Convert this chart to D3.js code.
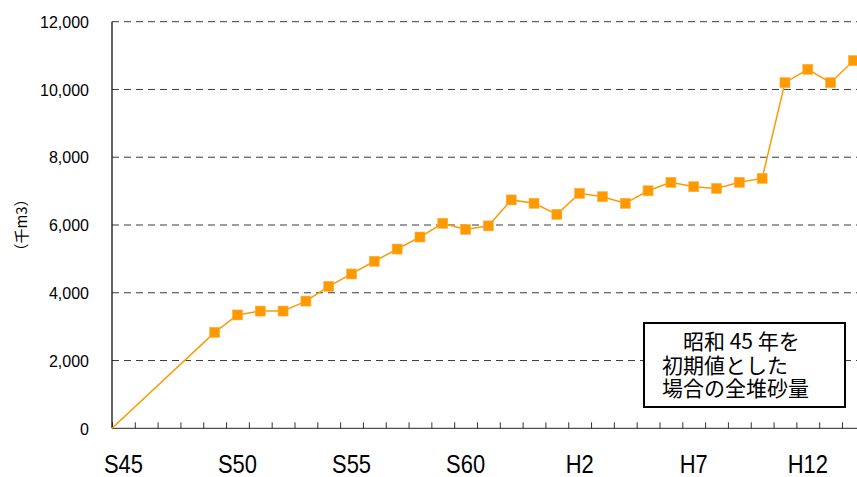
<!DOCTYPE html>
<html lang="ja">
<head>
<meta charset="utf-8">
<script src="https://cdn.jsdelivr.net/npm/d3@7/dist/d3.min.js"></script>
<style>
  html, body { margin: 0; padding: 0; background: #fff; }
  svg { display: block; }
  text { font-family: "Liberation Sans", Arial, "Noto Sans CJK JP", sans-serif; fill: #000; }
  .jp { font-family: "Noto Sans CJK JP", "Noto Sans CJK SC", sans-serif; }
</style>
</head>
<body>
<svg id="chart" width="857" height="477"></svg>
<script>
// Fiscal years S45 (1970) .. H14 (2002)
const years = [
  "S45","S46","S47","S48","S49","S50","S51","S52","S53","S54",
  "S55","S56","S57","S58","S59","S60","S61","S62","S63","H1",
  "H2","H3","H4","H5","H6","H7","H8","H9","H10","H11",
  "H12","H13","H14"
];
// Cumulative sediment volume (thousand m3); null = not surveyed
const sediment = [
  null, null, null, null, 2830, 3345, 3460, 3460, 3755, 4190,
  4555, 4930, 5290, 5645, 6050, 5870, 5975, 6740, 6640, 6315,
  6935, 6835, 6640, 7010, 7260, 7130, 7080, 7260, 7375, 10200,
  10595, 10200, 10850
];
// Initial value at the start of S45
const initialValue = 0;
const xLabels = ["S45", "S50", "S55", "S60", "H2", "H7", "H12"];
const yTicks = [0, 2000, 4000, 6000, 8000, 10000, 12000];
const noteLines = ["昭和 45 年を", "初期値とした", "場合の全堆砂量"];

const svg = d3.select("#chart");
const plot = { left: 112, right: 864.8, top: 21.7, bottom: 428.3 };

const x = d3.scaleLinear().domain([0, years.length]).range([plot.left, plot.right]);
const y = d3.scaleLinear().domain([0, 12000]).range([plot.bottom, plot.top]);
const center = i => x(i + 0.5);

// Dashed horizontal gridlines
svg.append("g")
  .selectAll("line")
  .data(yTicks.filter(v => v > 0))
  .join("line")
  .attr("x1", plot.left).attr("x2", 857)
  .attr("y1", d => y(d)).attr("y2", d => y(d))
  .attr("stroke", "#3a3a3a")
  .attr("stroke-width", 1)
  .attr("stroke-dasharray", "7,5");

// Y axis (labels only, line drawn separately)
const yAxis = d3.axisLeft(y).tickValues(yTicks).tickFormat(d3.format(",")).tickSize(0).tickPadding(0);
const gy = svg.append("g").attr("transform", `translate(89,0)`).call(yAxis);
gy.select(".domain").remove();
gy.selectAll("text")
  .attr("font-size", 16)
  .attr("font-family", "'Liberation Sans', Arial, sans-serif")
  .attr("fill", "#000")
  .attr("dy", "0.36em");

// X axis: inward ticks at category boundaries
const xAxis = d3.axisTop(x).tickValues(d3.range(0, years.length + 1)).tickSize(6).tickFormat("");
const gx = svg.append("g").attr("transform", `translate(0,${plot.bottom})`).call(xAxis);
gx.select(".domain").attr("stroke", "#222").attr("d", `M${plot.left},0H${plot.right}`);
gx.selectAll(".tick line").attr("stroke", "#333");

// Category labels
svg.append("g")
  .selectAll("text")
  .data(xLabels)
  .join("text")
  .attr("transform", d => `translate(${center(years.indexOf(d))},472.5) scale(0.86,1)`)
  .attr("text-anchor", "middle")
  .attr("font-size", 25.5)
  .text(d => d);

// Left axis line
svg.append("line")
  .attr("x1", plot.left).attr("x2", plot.left)
  .attr("y1", plot.top).attr("y2", plot.bottom)
  .attr("stroke", "#111").attr("stroke-width", 1.3);

// Y axis title
svg.append("text")
  .attr("class", "jp")
  .attr("transform", "translate(27,225) rotate(-90)")
  .attr("text-anchor", "middle")
  .attr("font-size", 15)
  .text("（千m3）");

// Series line, starting from the initial value
const points = [{ pos: x(0), v: initialValue }].concat(
  sediment.map((v, i) => ({ pos: center(i), v })).filter(d => d.v !== null)
);
const line = d3.line().x(d => d.pos).y(d => y(d.v));
svg.append("path")
  .datum(points)
  .attr("d", line)
  .attr("fill", "none")
  .attr("stroke", "#ff9900")
  .attr("stroke-width", 1.5);

// Square markers
const ms = 10;
svg.append("g")
  .selectAll("rect")
  .data(points.slice(1))
  .join("rect")
  .attr("x", d => d.pos - ms / 2)
  .attr("y", d => y(d.v) - ms / 2)
  .attr("width", ms).attr("height", ms)
  .attr("fill", "#ff9900")
  .attr("stroke", "#ffb040")
  .attr("stroke-width", 0.6);

// Note box
const note = svg.append("g");
note.append("rect")
  .attr("x", 644).attr("y", 323)
  .attr("width", 201).attr("height", 84)
  .attr("fill", "#fff")
  .attr("stroke", "#000")
  .attr("stroke-width", 2);
note.append("text")
  .attr("class", "jp")
  .attr("font-size", 21)
  .selectAll("tspan")
  .data(noteLines)
  .join("tspan")
  .attr("x", (d, i) => i === 0 ? 683 : 662)
  .attr("y", (d, i) => 349 + i * 23.5)
  .text(d => d);
</script>
</body>
</html>
